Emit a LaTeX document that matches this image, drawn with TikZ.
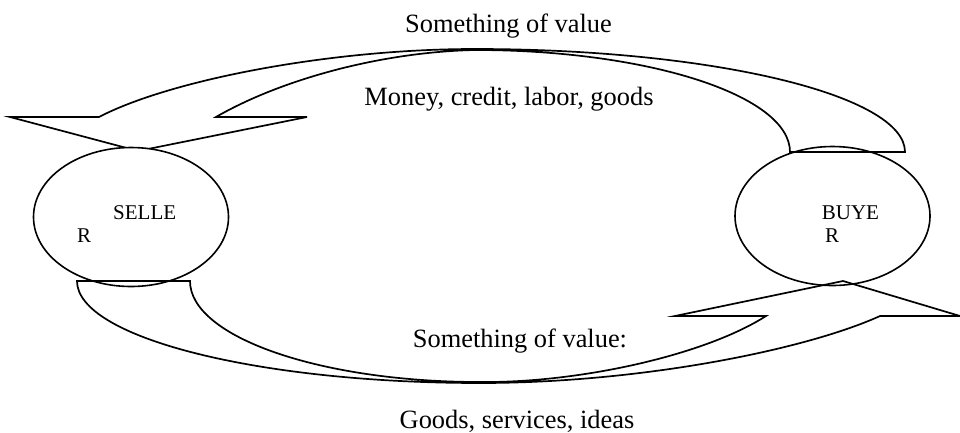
\documentclass[tikz,border=0pt]{standalone}
\usepackage{fontspec}
\setmainfont{Liberation Serif}
\usetikzlibrary{calc,shapes.geometric}

\begin{document}
\begin{tikzpicture}[x=1pt,y=-1pt,
    party/.style={ellipse, draw=black, line width=1.6pt, minimum width=195pt, minimum height=139pt, inner sep=0pt},
    band/.style={draw=black, line width=1.7pt, line join=miter},
    caption/.style={anchor=base, inner sep=0pt, font=\fontsize{26.4}{30}\selectfont},
    tag/.style={anchor=base west, inner sep=0pt, font=\fontsize{21}{24}\selectfont}
    ]
        \useasboundingbox (0,0) rectangle (960,432);
        \node[party] (buyer) at (832.5,216) {};
        % upper band, from the buyer over the top down to the seller
        \coordinate (tipS) at ($(buyer.center)+(-694.5,-65)$);
        \draw[band] (905,152) arc[start angle=0, end angle=-90, x radius=430, y radius=103]
            .. controls (330,49) and (170,80) .. (99,117)
            -- (10,117) -- (tipS) -- (307,117) -- (216,117)
            .. controls (280,80) and (380,52) .. (475,50)
            arc[start angle=270, end angle=360, x radius=315, y radius=102] -- cycle;
        \node[party, fill=white] (seller) at (131,217) {};
        % lower band, from the seller under the bottom up to the buyer
        \coordinate (tipB) at ($(buyer.center)+(10.5,65)$);
        \draw[band] (77,281) arc[start angle=180, end angle=90, x radius=403, y radius=102]
            .. controls (640,383) and (805,350) .. (880,316)
            -- (960,316) -- (tipB) -- (675,316) -- (766,316)
            .. controls (705,355) and (580,383) .. (480,382)
            arc[start angle=90, end angle=180, x radius=290, y radius=101] -- cycle;
        \node[tag] (sname) at ($(seller.center)+(-18,2)$) {SELLE};
        \node[tag] (sr) at ($(seller.center)+(-54,25)$) {R};
        \node[tag] (bname) at ($(buyer.center)+(-10.8,3)$) {BUYE};
        \node[tag] (br) at ($(buyer.center)+(-7.5,26)$) {R};
        \node[caption] (upvalue) at (508.5,32) {Something of value};
        \node[caption] (money) at (509,105) {Money, credit, labor, goods};
        \node[caption] (downvalue) at (520,347) {Something of value:};
        \node[caption] (goods) at (517,428) {Goods, services, ideas};
    \end{tikzpicture}
\end{document}
